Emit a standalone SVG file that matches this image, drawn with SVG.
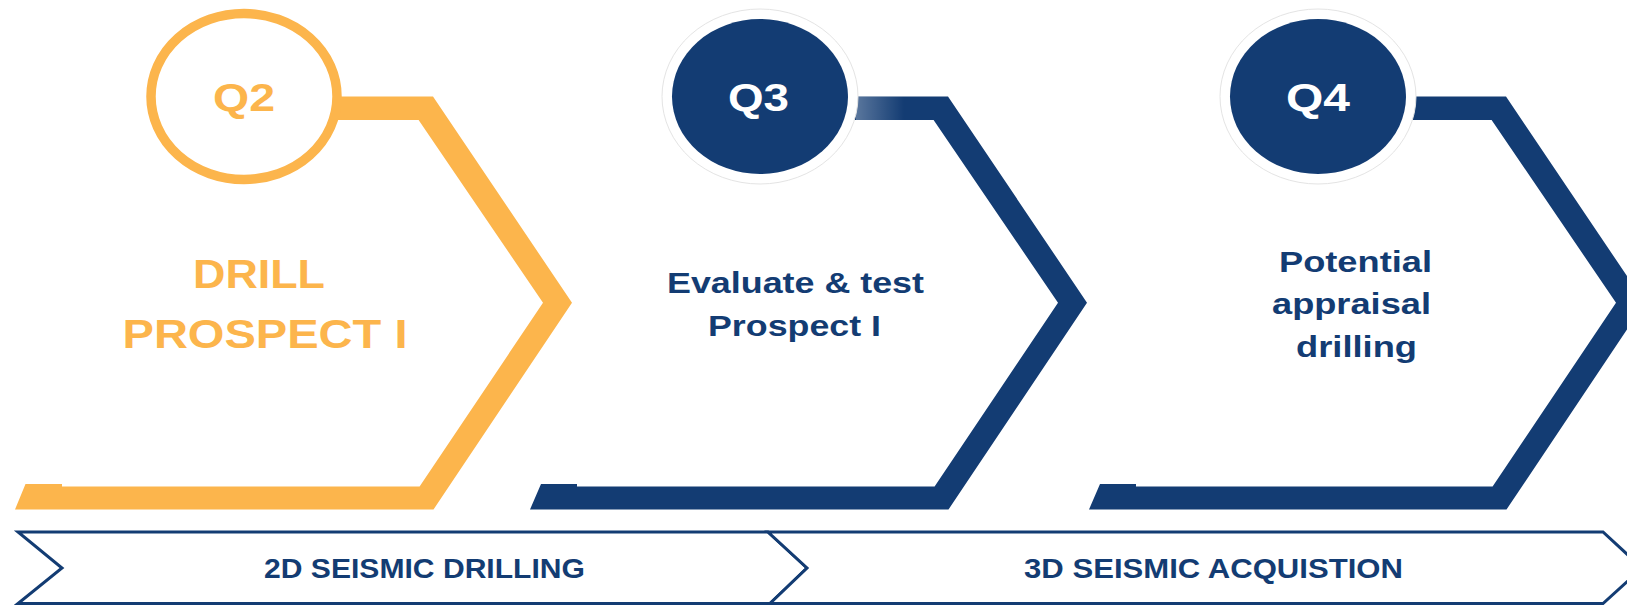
<svg xmlns="http://www.w3.org/2000/svg" width="1627" height="605" viewBox="0 0 1627 605">
  <defs>
    <linearGradient id="fade" x1="0" y1="0" x2="1" y2="0">
      <stop offset="0" stop-color="#ffffff" stop-opacity="0.3"/>
      <stop offset="1" stop-color="#ffffff" stop-opacity="0"/>
    </linearGradient>
  </defs>
  <style>
    .yel { fill: #FCB54C; }
    .blu { fill: #133C73; }
    .ring { fill: #ffffff; stroke: #FCB54C; stroke-width: 9.5; }
    .halo { fill: #ffffff; stroke: #e4e4e4; stroke-width: 1; }
    .disc { fill: #133C73; }
    .t { font-family: "Liberation Sans", Arial, sans-serif; font-weight: bold; }
    .q { font-size: 39px; }
    .big { font-size: 41px; fill: #FCB54C; }
    .mid { font-size: 30px; fill: #133C73; }
    .band { fill: #ffffff; stroke: #133C73; stroke-width: 3; }
    .bt { font-size: 27px; fill: #133C73; }
  </style>
  <rect x="0" y="0" width="1627" height="605" fill="#ffffff"/>

  <g id="node-q2">
    <polygon class="yel" points="15,509.5 433.5,509.5 572,302.75 433,96.5 244,96.5 244,120 418.6,120 543,302.75 419.6,486.5 62,486.5 62,484 25.5,484"/>
    <ellipse class="ring" cx="244" cy="96.5" rx="93" ry="83"/>
    <text class="t q" x="213" y="111" fill="#FCB54C" textLength="62" lengthAdjust="spacingAndGlyphs">Q2</text>
    <text class="t big" x="193" y="288" textLength="132" lengthAdjust="spacingAndGlyphs">DRILL</text>
    <text class="t big" x="122.5" y="348" textLength="285" lengthAdjust="spacingAndGlyphs">PROSPECT I</text>
  </g>

  <g id="node-q3">
    <polygon class="blu" points="530,509.5 948.5,509.5 1087,302.75 948,96.5 760,96.5 760,120 933.6,120 1058,302.75 934.6,486.5 577,486.5 577,484 541,484"/>
    <rect x="856" y="96.5" width="48" height="23.5" fill="url(#fade)"/>
    <ellipse class="halo" cx="760" cy="96.5" rx="98" ry="87.5"/>
    <ellipse class="disc" cx="760" cy="96.5" rx="88" ry="77.5"/>
    <text class="t q" x="728" y="111" fill="#ffffff" textLength="61" lengthAdjust="spacingAndGlyphs">Q3</text>
    <text class="t mid" x="667" y="293" textLength="257" lengthAdjust="spacingAndGlyphs">Evaluate &amp; test</text>
    <text class="t mid" x="708" y="336" textLength="173" lengthAdjust="spacingAndGlyphs">Prospect I</text>
  </g>

  <g id="node-q4">
    <polygon class="blu" points="1089,509.5 1506.5,509.5 1645,302.75 1506,96.5 1318,96.5 1318,120 1491.6,120 1616,302.75 1492.6,486.5 1136,486.5 1136,484 1100,484"/>
    <ellipse class="halo" cx="1318" cy="96.5" rx="98" ry="87.5"/>
    <ellipse class="disc" cx="1318" cy="96.5" rx="88" ry="77.5"/>
    <text class="t q" x="1286" y="111" fill="#ffffff" textLength="64" lengthAdjust="spacingAndGlyphs">Q4</text>
    <text class="t mid" x="1279" y="272" textLength="153" lengthAdjust="spacingAndGlyphs">Potential</text>
    <text class="t mid" x="1272" y="314" textLength="159" lengthAdjust="spacingAndGlyphs">appraisal</text>
    <text class="t mid" x="1296" y="357" textLength="121" lengthAdjust="spacingAndGlyphs">drilling</text>
  </g>

  <g id="band-2d">
    <polygon class="band" points="18,532 768,532 807,568 770,603.5 18,603.5 62,568"/>
    <text class="t bt" x="264" y="578" textLength="321" lengthAdjust="spacingAndGlyphs">2D SEISMIC DRILLING</text>
  </g>

  <g id="band-3d">
    <polygon class="band" points="768,532 1603,532 1642,568 1603,603.5 770,603.5 807,568"/>
    <text class="t bt" x="1024" y="578" textLength="379" lengthAdjust="spacingAndGlyphs">3D SEISMIC ACQUISTION</text>
  </g>

  <g id="connectors"/>
</svg>
